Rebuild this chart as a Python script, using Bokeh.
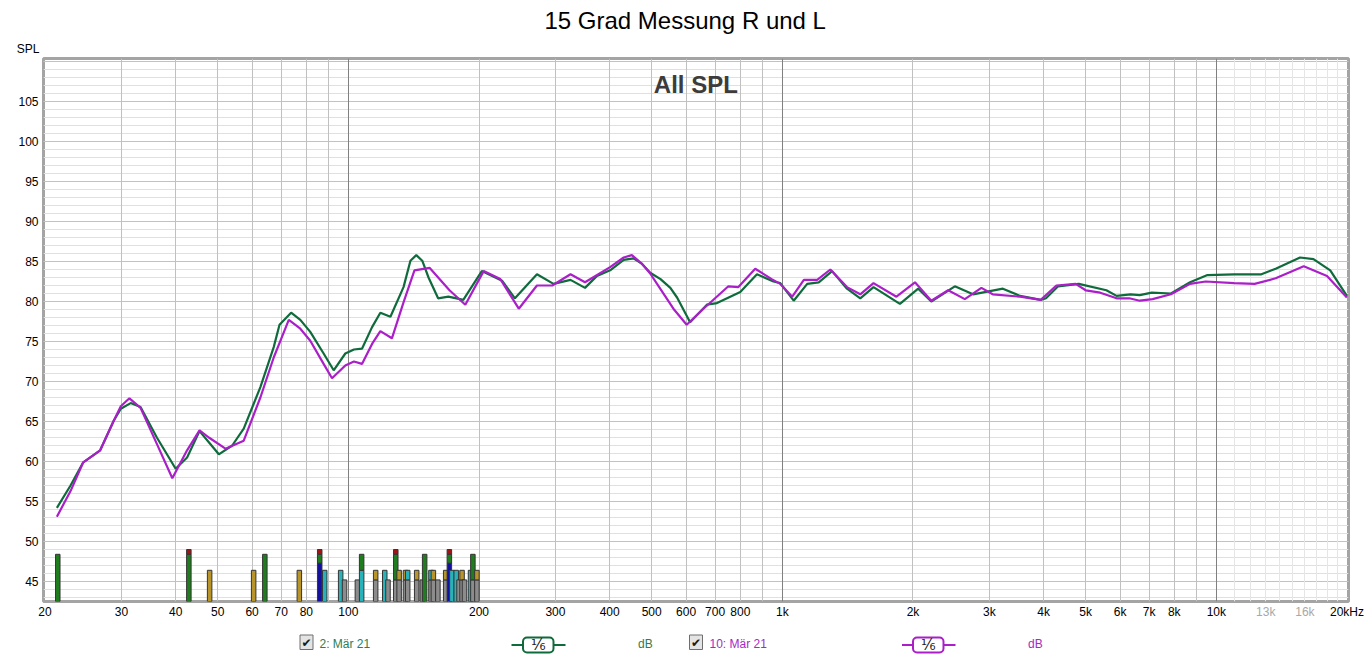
import math
from bokeh.plotting import figure
from bokeh.models import Range1d, FixedTicker, Grid, Label, Quad, Plot
from bokeh.layouts import column
from bokeh.embed import file_html
from bokeh.resources import INLINE
from bokeh.core.properties import value

FONT = "Liberation Sans"

title_text = "15 Grad Messung R und L"
panel_text = "All SPL"
y_title = "SPL"
series_names = ["2: Mär 21", "10: Mär 21"]
smoothing = "¹⁄₆"
unit_text = "dB"

freq_2 = [21.3, 22.9, 24.5, 26.8, 28.8, 29.9, 31.5, 33.2, 36.2, 40.0, 42.5, 45.4, 47.7, 50.3, 54.0,
          57.4, 62.7, 67.3, 69.4, 73.8, 77.5, 81.7, 87.7, 92.5, 98.4, 103, 107.5, 113.4, 118.5, 125,
          134, 139, 143.4, 148, 153, 161, 170, 184, 203, 226, 242, 272, 297, 325, 351, 374, 401, 431,
          454, 475, 496, 524, 552, 572, 613, 670, 707, 800, 874, 954, 989, 1062, 1141, 1213, 1302,
          1409, 1512, 1622, 1866, 2056, 2204, 2497, 2750, 3222, 3530, 3940, 4050, 4320, 4820, 5580,
          5890, 6340, 6660, 7100, 7860, 8700, 9540, 10990, 12700, 13700, 15590, 16740, 18300, 19990]
spl_2 = [54.2, 57.0, 59.9, 61.4, 65.1, 66.6, 67.3, 66.8, 63.0, 59.1, 60.5, 63.8, 62.4, 60.9, 62.0,
         64.1, 69.3, 74.3, 77.1, 78.6, 77.7, 76.2, 73.5, 71.4, 73.5, 74.0, 74.1, 76.8, 78.6, 78.1,
         81.8, 85.1, 85.8, 85.1, 83.0, 80.4, 80.6, 80.2, 83.8, 82.6, 80.4, 83.4, 82.2, 82.7, 81.7,
         83.2, 83.9, 85.2, 85.4, 84.7, 83.6, 82.8, 81.7, 80.5, 77.4, 79.6, 79.8, 81.2, 83.4, 82.5,
         82.3, 80.1, 82.2, 82.4, 83.8, 81.6, 80.4, 81.8, 79.7, 81.6, 80.0, 81.9, 80.9, 81.6, 80.7,
         80.2, 80.4, 81.9, 82.2, 81.4, 80.7, 80.9, 80.8, 81.1, 81.0, 82.4, 83.3, 83.4, 83.4, 84.1,
         85.5, 85.3, 83.9, 80.7]

freq_10 = [21.3, 22.9, 24.5, 26.8, 28.8, 29.9, 31.3, 33.2, 36.2, 39.3, 42.5, 45.4, 47.7, 52.1, 57.4,
           62.7, 67.3, 72.9, 77.5, 81.7, 87.7, 91.7, 98.4, 103, 107.5, 113.4, 118.5, 126, 134, 142,
           154, 171, 186, 205, 224, 247, 272, 295, 325, 351, 401, 431, 450, 475, 496, 523, 561, 602,
           658, 751, 792, 866, 945, 989, 1054, 1121, 1203, 1290, 1409, 1512, 1622, 1832, 2021, 2204,
           2410, 2633, 2875, 3053, 3530, 3940, 4280, 4740, 5000, 5400, 5890, 6300, 6660, 7130, 7860,
           8700, 9450, 10990, 12250, 13700, 15900, 17990, 19990]
spl_10 = [53.1, 56.3, 59.9, 61.4, 65.1, 66.9, 67.9, 66.7, 62.2, 57.9, 61.4, 63.9, 63.0, 61.6, 62.6,
          68.0, 73.0, 77.7, 76.6, 75.1, 72.2, 70.4, 72.0, 72.5, 72.2, 74.7, 76.3, 75.4, 79.9, 83.9,
          84.2, 81.4, 79.6, 83.8, 82.8, 79.1, 82.0, 82.0, 83.4, 82.4, 84.3, 85.5, 85.8, 84.7, 83.5,
          81.6, 79.1, 77.1, 79.1, 81.9, 81.8, 84.1, 82.8, 82.2, 80.6, 82.7, 82.7, 84.0, 81.8, 80.9,
          82.3, 80.6, 82.4, 80.1, 81.4, 80.3, 81.7, 80.9, 80.6, 80.2, 82.0, 82.2, 81.4, 81.1, 80.4,
          80.4, 80.1, 80.3, 80.9, 82.2, 82.5, 82.3, 82.2, 82.9, 84.4, 83.2, 80.5]

# mode markers at bottom: frequency and stacked kinds (bottom -> top)
mode_freq = [21.4, 42.9, 47.9, 60.5, 64.2, 77.1, 85.9, 88.2, 96.0, 98.0, 104.9, 107.3, 115.6, 121.3,
             123.4, 128.6, 130.9, 135.4, 137.0, 143.7, 148.0, 149.9, 155.0, 157.0, 160.8, 167.6,
             170.9, 173.2, 177.2, 179.9, 182.8, 185.2, 191.2, 193.6, 197.8]
mode_stack = ["G", "GR", "Y", "Y", "G", "Y", "BGR", "C", "C", "A", "A", "CG", "AY", "C", "A", "AGR",
              "AY", "AY", "AC", "AY", "A", "G", "AC", "AY", "A", "AY", "BGR", "C", "C", "A", "AY",
              "A", "C", "AG", "AY"]
mode_level = {"A": 45.2, "Y": 46.4, "C": 46.4, "B": 47.3, "G": 48.4, "R": 49.0}
mode_fill = {"A": "#8c8c8c", "Y": "#b8952c", "C": "#2ab2ba", "B": "#12129c", "G": "#1f7d1f", "R": "#a01616"}

x_ticks = [20, 30, 40, 50, 60, 70, 80, 100, 200, 300, 400, 500, 600, 700, 800, 1000, 2000, 3000,
           4000, 5000, 6000, 7000, 8000, 10000, 13000, 16000, 20000]
x_labels = ["20", "30", "40", "50", "60", "70", "80", "100", "200", "300", "400", "500", "600", "700",
            "800", "1k", "2k", "3k", "4k", "5k", "6k", "7k", "8k", "10k", "13k", "16k", "20kHz"]
x_labels_gray = ["13k", "16k"]
y_ticks = [45, 50, 55, 60, 65, 70, 75, 80, 85, 90, 95, 100, 105]

grid_regular = [30, 40, 50, 60, 70, 80, 90, 200, 300, 400, 500, 600, 700, 800, 900,
                2000, 3000, 4000, 5000, 6000, 7000, 8000, 9000]
grid_decade = [100, 1000, 10000]
grid_fine = [11000, 12000, 13000, 14000, 15000, 16000, 17000, 18000, 19000]
grid_db_minor = list(range(43, 111))
grid_db_major = list(range(45, 111, 5))

GREEN = "#0f6b3c"
MAGENTA = "#aa1fc8"
GREEN_TXT = "#2b7d55"
MAGENTA_TXT = "#a52bc0"

W = 1368
FRAME_L, FRAME_R, FRAME_T, FRAME_B = 43, 1348, 58, 601
H_HEAD, H_TICK, H_LEG = 56, 22, 32
H_MAIN = (FRAME_B + 2) - H_HEAD
Y0, Y1 = 42.5, 110.375
X0, X1 = 19.84, 20161

NO_BORDER = dict(min_border=0, min_border_left=0, min_border_right=0, min_border_top=0, min_border_bottom=0)


def style_blank(fig):
    fig.outline_line_color = None
    fig.background_fill_color = "white"
    fig.border_fill_color = "white"
    for g in fig.grid:
        g.visible = False


def no_align(fig):
    if "frame_align" in Plot.properties():
        fig.frame_align = False


# ---- header: title and y unit
head = figure(width=W, height=H_HEAD, x_range=Range1d(0, W), y_range=Range1d(H_HEAD, 0),
              output_backend="svg", toolbar_location=None, x_axis_location=None, y_axis_location=None,
              **NO_BORDER)
style_blank(head)
head.text(x=[684.7], y=[19.6], text=[title_text], text_align="center", text_baseline="middle",
          text_font=value(FONT), text_font_size="24px", text_color="#000000")
head.text(x=[39], y=[48.3], text=[y_title], text_align="right", text_baseline="middle",
          text_font=value(FONT), text_font_size="12px", text_color="#000000")

# ---- main plot
xr = Range1d(X0, X1)
p = figure(width=W, height=H_MAIN, x_axis_type="log", x_range=xr, y_range=Range1d(Y0, Y1),
           output_backend="svg", toolbar_location=None, x_axis_location=None,
           min_border_left=FRAME_L, min_border_right=W - FRAME_R,
           min_border_top=FRAME_T - H_HEAD, min_border_bottom=2)
p.background_fill_color = "white"
p.border_fill_color = "white"
p.outline_line_color = "#a4a4a4"
p.outline_line_width = 3
for g in p.grid:
    g.visible = False

p.add_layout(Grid(dimension=1, ticker=FixedTicker(ticks=grid_db_minor), grid_line_color="#e0e0e0"))
p.add_layout(Grid(dimension=1, ticker=FixedTicker(ticks=grid_db_major), grid_line_color="#c2c2c2"))
p.add_layout(Grid(dimension=0, ticker=FixedTicker(ticks=grid_fine), grid_line_color="#e6e6e6"))
p.add_layout(Grid(dimension=0, ticker=FixedTicker(ticks=grid_regular), grid_line_color="#c0c0c0"))
p.add_layout(Grid(dimension=0, ticker=FixedTicker(ticks=grid_decade), grid_line_color="#808080"))

p.yaxis.ticker = FixedTicker(ticks=y_ticks, minor_ticks=[])
ax = p.yaxis[0]
ax.axis_line_color = None
ax.major_tick_line_color = None
ax.minor_tick_line_color = None
ax.major_tick_out = 0
ax.major_tick_in = 0
ax.minor_tick_out = 0
ax.minor_tick_in = 0
ax.major_label_text_font = FONT
ax.major_label_text_font_size = "12px"
ax.major_label_text_color = "#000000"
ax.major_label_standoff = 5

# mode bars
half = 2.25 / 434.0
l, r, b, t, c = [], [], [], [], []
for f, st in zip(mode_freq, mode_stack):
    bottom = Y0
    for k in st:
        top = mode_level[k]
        l.append(f / 10 ** half)
        r.append(f * 10 ** half)
        b.append(bottom)
        t.append(top)
        c.append(mode_fill[k])
        bottom = top
p.quad(left=l, right=r, bottom=b, top=t, fill_color=c, line_color="#353535", line_width=1)

p.line(freq_2, spl_2, line_color=GREEN, line_width=2.2)
p.line(freq_10, spl_10, line_color=MAGENTA, line_width=2.2)

p.add_layout(Label(x=631.8, y=107.125, text=panel_text, text_align="center", text_baseline="alphabetic",
                   text_color="#3c3c3c", text_font=FONT, text_font_size="24px", text_font_style="bold"))

# ---- x tick labels row (same log mapping, frame widened to the whole row)
ppd = (FRAME_R - FRAME_L) / (math.log10(X1) - math.log10(X0))
tx0 = 10 ** (math.log10(X0) - FRAME_L / ppd)
tx1 = 10 ** (math.log10(X1) + (W - FRAME_R) / ppd)
tk = figure(width=W, height=H_TICK, x_axis_type="log", x_range=Range1d(tx0, tx1),
            y_range=Range1d(FRAME_B + 2 + H_TICK, FRAME_B + 2),
            output_backend="svg", toolbar_location=None, x_axis_location=None, y_axis_location=None,
            **NO_BORDER)
style_blank(tk)
tk.text(x=x_ticks, y=[611.2] * len(x_ticks), text=x_labels, text_align="center", text_baseline="middle",
        text_font=value(FONT), text_font_size="12px",
        text_color=[("#a8a8a8" if s in x_labels_gray else "#000000") for s in x_labels])

# ---- legend row
ly0 = FRAME_B + 2 + H_TICK
leg = figure(width=W, height=H_LEG, x_range=Range1d(0, W), y_range=Range1d(ly0 + H_LEG, ly0),
             output_backend="svg", toolbar_location=None, x_axis_location=None, y_axis_location=None,
             **NO_BORDER)
style_blank(leg)

check_x = [306, 695.5]
name_x = [319, 709]
line_x0 = [511, 901.5]
line_x1 = [565, 955]
box_l = [522.5, 912.5]
box_r = [553, 943]
unit_x = [637.5, 1027.5]
line_cols = [GREEN, MAGENTA]
txt_cols = [GREEN_TXT, MAGENTA_TXT]

radius_kw = {"border_radius": 4} if "border_radius" in Quad.properties() else {}
leg.quad(left=[x - 6.5 for x in check_x], right=[x + 6.5 for x in check_x], top=[634.5] * 2,
         bottom=[649] * 2, fill_color="#e4e4e4", line_color="#6e6e6e", line_width=1)
leg.text(x=check_x, y=[642] * 2, text=["✔"] * 2, text_align="center", text_baseline="middle",
         text_font=value("DejaVu Sans"), text_font_size="12px", text_color="#1a1a1a")
leg.text(x=name_x, y=[643] * 2, text=series_names, text_align="left", text_baseline="middle",
         text_font=value(FONT), text_font_size="12px", text_color=txt_cols)
leg.segment(x0=line_x0, y0=[644.5] * 2, x1=line_x1, y1=[644.5] * 2, line_color=line_cols, line_width=2)
leg.quad(left=box_l, right=box_r, top=[637] * 2, bottom=[652] * 2, fill_color="white",
         line_color=line_cols, line_width=2, **radius_kw)
leg.text(x=[(a + bb) / 2 for a, bb in zip(box_l, box_r)], y=[644.5] * 2, text=[smoothing] * 2,
         text_align="center", text_baseline="middle", text_font=value("DejaVu Sans"),
         text_font_size="15px", text_color="#1a1a1a")
leg.text(x=unit_x, y=[643] * 2, text=[unit_text] * 2, text_align="left", text_baseline="middle",
         text_font=value(FONT), text_font_size="12px", text_color=txt_cols)

for fig in (head, p, tk, leg):
    no_align(fig)

layout = column(head, p, tk, leg, spacing=0)
open("out.html", "w").write(file_html(layout, INLINE))
